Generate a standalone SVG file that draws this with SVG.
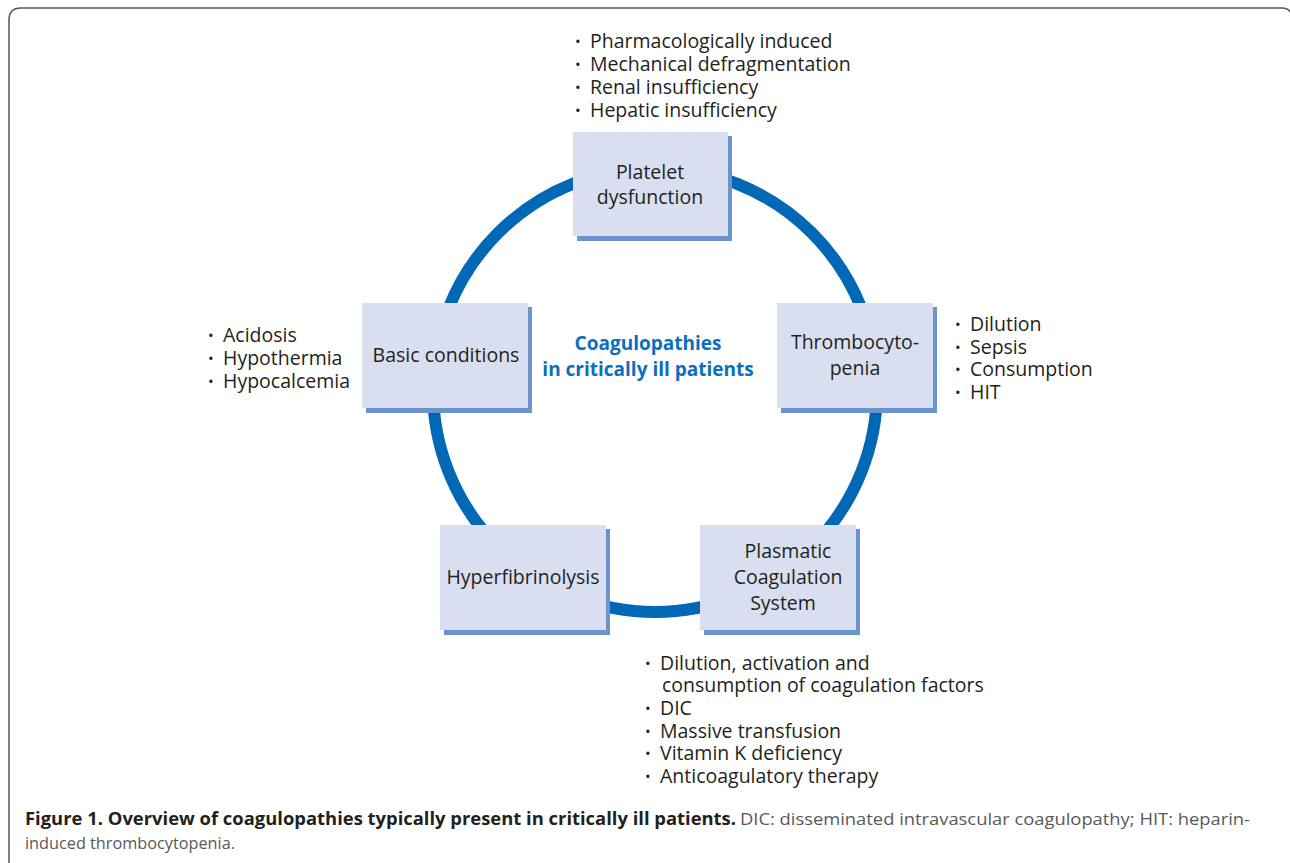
<svg xmlns="http://www.w3.org/2000/svg" width="1290" height="863" viewBox="0 0 1290 863">
<style>
.t{font-family:"Open Sans","Noto Sans",sans-serif;font-size:19.5px;fill:#231f20}
.b{font-family:"Open Sans","Noto Sans",sans-serif;font-size:15px;fill:#231f20}
.c{text-anchor:middle}
.box{fill:#d9dff1}
.sh{fill:#6b94cc}
.ctr{font-family:"Open Sans","Noto Sans",sans-serif;font-size:19px;font-weight:bold;fill:#0a6fbd;text-anchor:middle}
.cap{font-family:"Open Sans","Noto Sans",sans-serif;font-size:17px}
</style>
<rect width="1290" height="863" fill="#ffffff"/>
<path d="M9,863 L9,20 Q9,8 21,8 L1282,8 Q1290,8 1292,16" fill="none" stroke="#555" stroke-width="1.5"/>
<g id="connectors">
<circle cx="655" cy="390" r="222" fill="none" stroke="#0068b5" stroke-width="12"/>
</g>
<g id="center">
<text class="ctr" x="648" y="350">Coagulopathies</text>
<text class="ctr" x="648" y="376">in critically ill patients</text>
</g>
<g id="platelet">
<rect class="sh" x="577" y="136" width="155" height="105"/>
<rect class="box" x="573" y="132" width="155" height="104"/>
<text class="t c" x="650" y="179">Platelet</text>
<text class="t c" x="650" y="204">dysfunction</text>
</g>
<g id="thrombo">
<rect class="sh" x="781" y="307" width="156" height="106"/>
<rect class="box" x="777" y="303" width="156" height="105"/>
<text class="t c" x="855" y="349">Thrombocyto-</text>
<text class="t c" x="855" y="375">penia</text>
</g>
<g id="plasmatic">
<rect class="sh" x="704" y="529" width="156" height="106"/>
<rect class="box" x="700" y="525" width="156" height="105"/>
<text class="t c" x="788" y="558">Plasmatic</text>
<text class="t c" x="788" y="584">Coagulation</text>
<text class="t c" x="783" y="610">System</text>
</g>
<g id="hyper">
<rect class="sh" x="444" y="529" width="166" height="106"/>
<rect class="box" x="440" y="525" width="166" height="105"/>
<text class="t c" x="523" y="584">Hyperfibrinolysis</text>
</g>
<g id="basic">
<rect class="sh" x="366" y="307" width="166" height="106"/>
<rect class="box" x="362" y="303" width="166" height="105"/>
<text class="t c" x="446" y="362">Basic conditions</text>
</g>
<g id="list-top">
<text class="b" x="575" y="47">•</text><text class="t" x="590" y="48">Pharmacologically induced</text>
<text class="b" x="575" y="70">•</text><text class="t" x="590" y="71">Mechanical defragmentation</text>
<text class="b" x="575" y="93">•</text><text class="t" x="590" y="94">Renal insufficiency</text>
<text class="b" x="575" y="116">•</text><text class="t" x="590" y="117">Hepatic insufficiency</text>
</g>
<g id="list-left">
<text class="b" x="208" y="341">•</text><text class="t" x="223" y="342">Acidosis</text>
<text class="b" x="208" y="364">•</text><text class="t" x="223" y="365">Hypothermia</text>
<text class="b" x="208" y="387">•</text><text class="t" x="223" y="388">Hypocalcemia</text>
</g>
<g id="list-right">
<text class="b" x="955" y="330">•</text><text class="t" x="970" y="331">Dilution</text>
<text class="b" x="955" y="353">•</text><text class="t" x="970" y="354">Sepsis</text>
<text class="b" x="955" y="375">•</text><text class="t" x="970" y="376">Consumption</text>
<text class="b" x="955" y="398">•</text><text class="t" x="970" y="399">HIT</text>
</g>
<g id="list-bottom">
<text class="b" x="645" y="669">•</text><text class="t" x="660" y="670">Dilution, activation and</text>
<text class="t" x="662" y="692">consumption of coagulation factors</text>
<text class="b" x="645" y="714">•</text><text class="t" x="660" y="715">DIC</text>
<text class="b" x="645" y="737">•</text><text class="t" x="660" y="738">Massive transfusion</text>
<text class="b" x="645" y="759">•</text><text class="t" x="660" y="760">Vitamin K deficiency</text>
<text class="b" x="645" y="782">•</text><text class="t" x="660" y="783">Anticoagulatory therapy</text>
</g>
<g id="caption">
<text class="cap" x="25" y="825" font-weight="bold" fill="#231f20" textLength="711" lengthAdjust="spacingAndGlyphs">Figure 1. Overview of coagulopathies typically present in critically ill patients.</text>
<text class="cap" x="740" y="825" fill="#58595b" textLength="510" lengthAdjust="spacingAndGlyphs">DIC: disseminated intravascular coagulopathy; HIT: heparin-</text>
<text class="cap" x="25" y="849" fill="#58595b" textLength="210" lengthAdjust="spacingAndGlyphs">induced thrombocytopenia.</text>
</g>
</svg>
